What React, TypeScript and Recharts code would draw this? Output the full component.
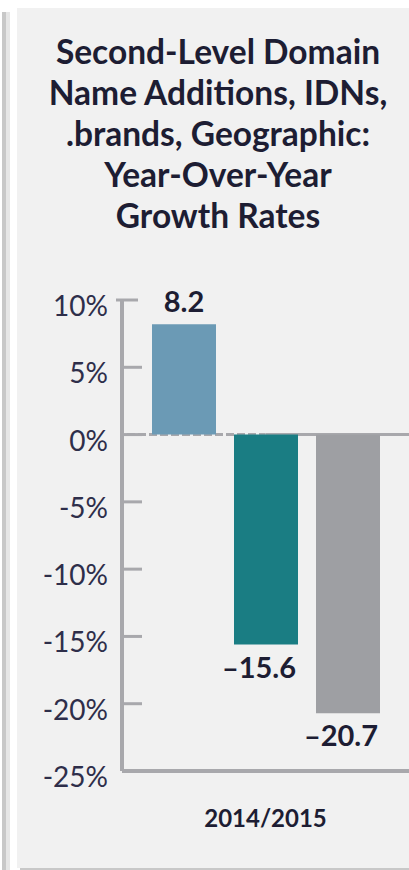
import { BarChart, Bar, XAxis, YAxis, ReferenceLine, LabelList } from "recharts";

const periods = ["2014/2015"];
const idnGrowth = [8.2];
const brandGrowth = [-15.6];
const geoGrowth = [-20.7];
const yTicks = [10, 5, 0, -5, -10, -15, -20, -25];
const titleLines = [
  "Second-Level Domain",
  "Name Additions, IDNs,",
  ".brands, Geographic:",
  "Year-Over-Year",
  "Growth Rates",
];

const AXIS = "#a8a8ac";
const INK = "#1d1d33";
const TICK_GAP = 14;

const data = periods.map((period, i) => ({
  period,
  idn: idnGrowth[i],
  brand: brandGrowth[i],
  geo: geoGrowth[i],
}));

function YTick(props: any) {
  const { x, y, payload } = props;
  const axisX = x + TICK_GAP;
  const isTop = payload.value === yTicks[0];
  return (
    <g>
      <line
        x1={isTop ? axisX - 6 : axisX}
        x2={isTop ? axisX + 16 : axisX + 20}
        y1={y}
        y2={y}
        stroke={AXIS}
        strokeWidth={3}
      />
      <text x={x} y={y + 16} textAnchor="end" fontSize={28} fill="#2e2e4a" fontFamily="Lato">
        {`${payload.value}%`}
      </text>
    </g>
  );
}

// value above positive bars, below negative ones (minus sign hangs left)
function ValueLabel(props: any) {
  const { x, y, width, height, value } = props;
  const top = Math.min(y, y + height);
  const bottom = Math.max(y, y + height);
  const neg = value < 0;
  return (
    <text
      x={x + width / 2 + (neg ? -7 : 0)}
      y={neg ? bottom + 33 : top - 12}
      textAnchor="middle"
      fontSize={29}
      fontWeight="bold"
      fill={INK}
      fontFamily="Lato"
    >
      {neg ? `\u2013${Math.abs(value)}` : `${value}`}
    </text>
  );
}

// dashed on the left half, solid on the right
function ZeroLine(props: any) {
  const { x1, x2, y1 } = props;
  const mid = (x1 + x2) / 2;
  return (
    <g>
      <line x1={x1} x2={mid} y1={y1} y2={y1} stroke={AXIS} strokeWidth={3} strokeDasharray="8 3" strokeDashoffset={6} />
      <line x1={mid} x2={x2} y1={y1} y2={y1} stroke={AXIS} strokeWidth={3} />
    </g>
  );
}

export default function App() {
  return (
    <div
      style={{
        position: "absolute",
        left: 0,
        top: 0,
        width: 409,
        height: 870,
        overflow: "hidden",
        background: "#fff",
        fontFamily: "Lato",
      }}
    >
      <div style={{ position: "absolute", left: 2, top: 12, width: 4, height: 858, background: "#c8c8c8" }} />
      <div style={{ position: "absolute", left: 6, top: 12, width: 4, height: 858, background: "#e6e6e6" }} />
      <div
        style={{
          position: "absolute",
          left: 17,
          top: 8,
          width: 392,
          height: 860,
          background: "#f1f1f1",
        }}
      />
      <div style={{ position: "absolute", left: 20, top: 868, width: 389, height: 2, background: "#c8c8c8" }} />

      <div
        style={{
          position: "absolute",
          left: 18,
          top: 31,
          width: 400,
          textAlign: "center",
          fontWeight: "bold",
          fontSize: 33.5,
          lineHeight: "41px",
          color: INK,
        }}
      >
        {titleLines.map((t) => (
          <div key={t}>{t}</div>
        ))}
      </div>

      <div style={{ position: "absolute", left: 0, top: 280 }}>
        <BarChart
          width={409}
          height={560}
          data={data}
          margin={{ top: 20, right: 0, bottom: 0, left: 0 }}
          barSize={64}
          barGap={18}
        >
          <XAxis
            dataKey="period"
            height={69}
            axisLine={{ stroke: AXIS, strokeWidth: 4 }}
            tickLine={false}
            tickSize={0}
            tickMargin={39}
            tick={{ fontSize: 24, fontWeight: "bold", fill: INK, fontFamily: "Lato" }}
          />
          <YAxis
            width={122}
            domain={[-25, 10]}
            ticks={yTicks}
            interval={0}
            allowDataOverflow
            tickSize={0}
            tickMargin={TICK_GAP}
            axisLine={{ stroke: AXIS, strokeWidth: 4 }}
            tick={<YTick />}
          />
          <ReferenceLine y={0} shape={<ZeroLine />} zIndex={250} />
          <Bar dataKey="idn" name="IDNs" fill="#6b9ab5" isAnimationActive={false}>
            <LabelList dataKey="idn" content={<ValueLabel />} />
          </Bar>
          <Bar dataKey="brand" name=".brands" fill="#1a7d83" isAnimationActive={false}>
            <LabelList dataKey="brand" content={<ValueLabel />} />
          </Bar>
          <Bar dataKey="geo" name="Geographic" fill="#9e9fa3" isAnimationActive={false}>
            <LabelList dataKey="geo" content={<ValueLabel />} />
          </Bar>
        </BarChart>
      </div>
    </div>
  );
}
